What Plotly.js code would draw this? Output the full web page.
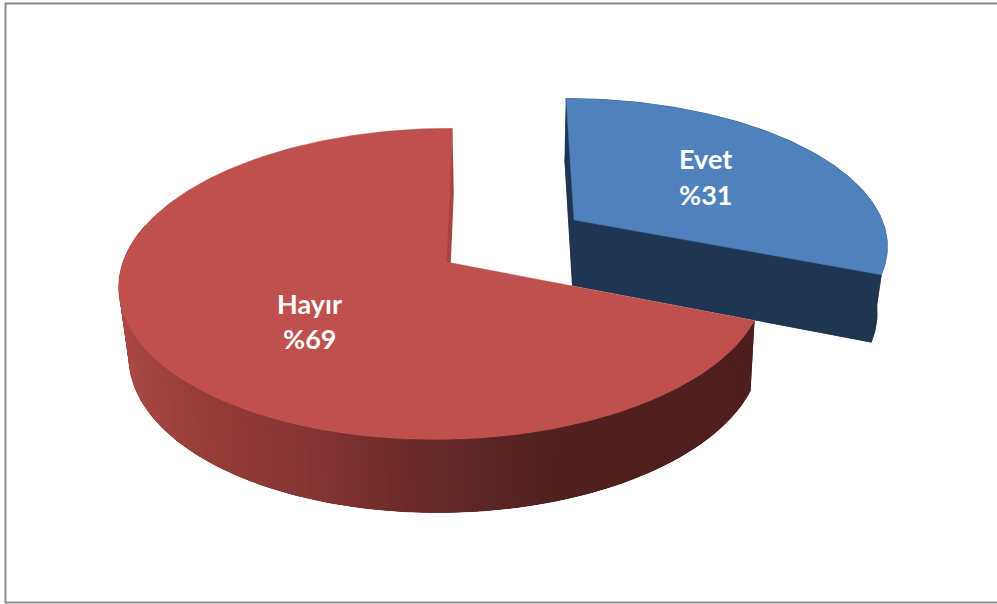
<!DOCTYPE html>
<html>
<head>
<meta charset="utf-8">
<script src="https://cdn.plot.ly/plotly-3.0.1.min.js"></script>
<style>html,body{margin:0;padding:0;background:#fff}#c{width:997px;height:604px}</style>
</head>
<body>
<div id="c"></div>
<script>
// Data
const categories = ["Evet", "Hayır"];
const shares = [31, 69];
const topColors = ["#4f81bd", "#bf504d"];

// Perspective view of each exploded slice
const views = [
  {ax:574, ay:220, b:308, a:140.3, e:9.1, p:0.155, q:0, xv:521, s:0.972, k:1.036, c:57.5, innerSquash:1},
  {ax:446.5, ay:262, b:320, a:152.5, e:-6.8, p:0.141, q:0.0103, xv:572, s:0.978, k:1.0254, c:61.8, innerSquash:0.5}
];
const labelSpots = [{x:705, y1:158, y2:194}, {x:309, y1:303, y2:338}];
const wallNavy = "#1f3552";
const redWallBase = "#6a2927";
const redWallFrontLimit = 0.25;
const shadeX = [118, 200, 300, 400, 480, 560, 760];
const shadeR = [170, 150, 134, 110, 92, 78, 77];
const shadeG = [72, 60, 54, 43, 38, 32, 31];
const shadeB = [68, 56, 51, 40, 37, 30, 30];

function project(v, deg, r) {
  const t = deg * Math.PI / 180, X = r * Math.sin(t), Y = -r * Math.cos(t);
  const D = 1 + v.q * X - v.p * Y;
  return [v.ax + (v.b * X + v.e * Y) / D, v.ay + v.a * Y / D];
}
function under(v, pt) {
  return [v.xv + (pt[0] - v.xv) * v.s, pt[1] * v.k + v.c];
}
function arc(v, from, to) {
  const pts = [], n = Math.ceil(Math.abs(to - from));
  for (let i = 0; i <= n; i++) pts.push(project(v, from + (to - from) * i / n, 1));
  return pts;
}
function poly(pts, color, lw) {
  return {type:"scatter", mode:"lines", x:pts.map(p=>p[0]), y:pts.map(p=>p[1]), fill:"toself",
          fillcolor:color, line:{color:color, width:lw===undefined?0.6:lw}, hoverinfo:"skip", showlegend:false};
}
function lerp(xs, ys, x) {
  if (x <= xs[0]) return ys[0];
  for (let i = 1; i < xs.length; i++) if (x <= xs[i]) return ys[i-1] + (ys[i]-ys[i-1])*(x-xs[i-1])/(xs[i]-xs[i-1]);
  return ys[ys.length-1];
}
function shade(x) {
  return "rgb(" + Math.round(lerp(shadeX,shadeR,x)) + "," + Math.round(lerp(shadeX,shadeG,x)) + "," + Math.round(lerp(shadeX,shadeB,x)) + ")";
}

const total = shares.reduce((a,b)=>a+b,0);
const traces = [];
let start = 0;
const annotations = [];
shares.forEach((val, i) => {
  const v = views[i], end = start + 360 * val / total;
  const apex = project(v, 0, 0), A = arc(v, start, end);
  const Au = A.map(p => under(v, p)), apexU = under(v, apex);
  if (i === 0) {
    traces.push(poly([apexU].concat(Au), wallNavy));
    traces.push(poly(A.concat(Au.slice().reverse()), wallNavy));
    traces.push(poly([apex, A[0], Au[0], apexU], wallNavy));
    traces.push(poly([apex, A[A.length-1], Au[Au.length-1], apexU], wallNavy));
  } else {
    // keep only the front of the rim, overlapping strips so no seams show
    const n = A.length - 1, deg = k => start + (end - start) * k / n;
    const front = [];
    for (let k = 0; k <= n; k++) if (Math.cos(deg(k) * Math.PI / 180) < redWallFrontLimit) front.push(k);
    const first = front[0], lastF = front[front.length - 1];
    const fa = A.slice(first, lastF + 1), fu = Au.slice(first, lastF + 1);
    traces.push(poly(fa.concat(fu.slice().reverse()), redWallBase));
    for (let k = first; k < lastF; k++) {
      const mx = (A[k][0] + A[k+1][0]) / 2;
      const e2 = Math.min(k + 3, lastF);
      traces.push(poly([A[k], A[e2], Au[e2], Au[k]], shade(mx), 0));
    }
    const last = A.length - 1;
    const P = A[last], Pu = Au[last];
    const sq = v.innerSquash;
    traces.push(poly([P, [P[0] + (Pu[0]-P[0])*sq, Pu[1]], [apex[0] + (apexU[0]-apex[0])*sq, apexU[1]], [apex[0]-2, apex[1]]], "#a84440", 0));
  }
  traces.push(poly([apex].concat(A).concat([apex]), topColors[i], 0.4));
  const L = labelSpots[i];
  const base = {x:L.x, xref:"x", yref:"y", showarrow:false, xanchor:"center", yanchor:"middle",
    font:{family:"Lato, Carlito, sans-serif", size:27, color:"#ffffff", weight:700}};
  annotations.push(Object.assign({}, base, {y:L.y1, text:"<b>"+categories[i]+"</b>"}));
  annotations.push(Object.assign({}, base, {y:L.y2, text:"<b>%"+val+"</b>"}));
  start = end;
});

const hidden = {visible:false, fixedrange:true};
Plotly.newPlot("c", traces, {
  width:997, height:604, margin:{l:0,r:0,t:0,b:0},
  paper_bgcolor:"#fff", plot_bgcolor:"#fff", showlegend:false,
  xaxis:Object.assign({range:[0,997]}, hidden),
  yaxis:Object.assign({range:[604,0]}, hidden),
  annotations:annotations,
  shapes:[{type:"rect", xref:"x", yref:"y", x0:5.5, x1:1005, y0:3.5, y1:602.5,
           line:{color:"#8c8c8c", width:2}, fillcolor:"rgba(0,0,0,0)", layer:"above"}]
}, {staticPlot:true, displayModeBar:false});
</script>
</body>
</html>
